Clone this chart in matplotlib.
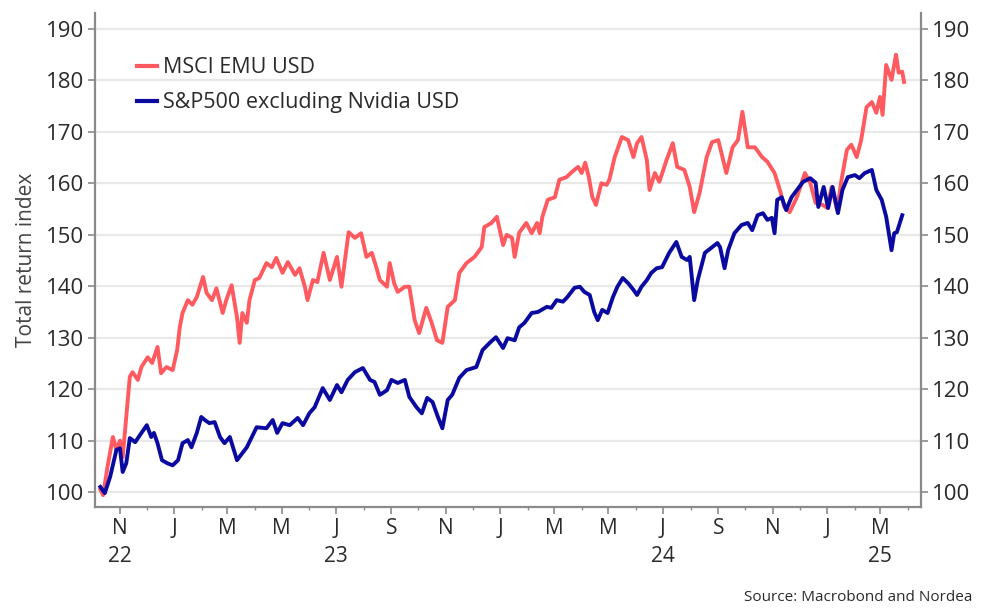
import pandas as pd
import matplotlib
matplotlib.use("Agg")
import matplotlib.pyplot as plt
import matplotlib.dates as mdates
import matplotlib.transforms as mtrans

plt.rcParams['font.family'] = ['Open Sans', 'DejaVu Sans']

# MSCI EMU USD (total return index)
emu_dates = ["2022-10-10", "2022-10-13", "2022-10-18", "2022-10-24", "2022-10-28", "2022-11-01",
             "2022-11-04", "2022-11-08", "2022-11-12", "2022-11-15", "2022-11-21", "2022-11-25",
             "2022-12-02", "2022-12-07", "2022-12-13", "2022-12-17", "2022-12-23", "2022-12-30",
             "2023-01-04", "2023-01-07", "2023-01-10", "2023-01-16", "2023-01-21", "2023-01-26",
             "2023-02-02", "2023-02-06", "2023-02-12", "2023-02-17", "2023-02-24", "2023-02-28",
             "2023-03-06", "2023-03-12", "2023-03-15", "2023-03-18", "2023-03-23", "2023-03-26",
             "2023-04-01", "2023-04-06", "2023-04-14", "2023-04-20", "2023-04-25", "2023-05-02",
             "2023-05-08", "2023-05-16", "2023-05-21", "2023-05-27", "2023-05-30", "2023-06-05",
             "2023-06-10", "2023-06-17", "2023-06-24", "2023-07-02", "2023-07-07", "2023-07-15",
             "2023-07-22", "2023-07-29", "2023-08-04", "2023-08-10", "2023-08-15", "2023-08-19",
             "2023-08-27", "2023-08-30", "2023-09-04", "2023-09-08", "2023-09-16", "2023-09-21",
             "2023-09-27", "2023-10-02", "2023-10-10", "2023-10-16", "2023-10-22", "2023-10-28",
             "2023-11-03", "2023-11-11", "2023-11-16", "2023-11-24", "2023-12-03", "2023-12-11",
             "2023-12-14", "2023-12-22", "2023-12-28", "2024-01-04", "2024-01-08", "2024-01-14",
             "2024-01-17", "2024-01-22", "2024-01-30", "2024-02-05", "2024-02-11", "2024-02-14",
             "2024-02-17", "2024-02-23", "2024-03-02", "2024-03-07", "2024-03-15", "2024-03-21",
             "2024-03-28", "2024-04-01", "2024-04-05", "2024-04-09", "2024-04-13", "2024-04-17",
             "2024-04-23", "2024-04-29", "2024-05-02", "2024-05-08", "2024-05-16", "2024-05-23",
             "2024-05-29", "2024-06-02", "2024-06-07", "2024-06-13", "2024-06-16", "2024-06-22",
             "2024-06-27", "2024-07-05", "2024-07-12", "2024-07-17", "2024-07-25", "2024-07-31",
             "2024-08-05", "2024-08-11", "2024-08-19", "2024-08-25", "2024-09-01", "2024-09-10",
             "2024-09-17", "2024-09-23", "2024-09-28", "2024-10-04", "2024-10-12", "2024-10-20",
             "2024-10-26", "2024-11-03", "2024-11-09", "2024-11-14", "2024-11-20", "2024-11-28",
             "2024-12-07", "2024-12-13", "2024-12-19", "2024-12-27", "2025-01-01", "2025-01-06",
             "2025-01-12", "2025-01-17", "2025-01-23", "2025-01-28", "2025-02-03", "2025-02-08",
             "2025-02-14", "2025-02-20", "2025-02-25", "2025-03-01", "2025-03-04", "2025-03-08",
             "2025-03-14", "2025-03-19", "2025-03-22", "2025-03-26", "2025-03-28"]
emu_vals = [100.5, 99.4, 104.9, 110.7, 108.2, 110.0,
            106.8, 114.6, 122.4, 123.3, 121.8, 124.3,
            126.2, 125.1, 128.2, 123.1, 124.3, 123.7,
            127.6, 132.1, 134.8, 137.3, 136.4, 137.9,
            141.8, 138.7, 137.3, 139.6, 134.8, 137.3,
            140.2, 134.0, 129.0, 134.8, 132.9, 137.3,
            141.2, 141.6, 144.5, 143.7, 145.5, 142.6,
            144.7, 142.2, 143.5, 139.9, 137.3, 141.2,
            140.8, 146.5, 141.2, 145.7, 139.9, 150.5,
            149.4, 150.3, 145.7, 146.5, 143.7, 141.2,
            139.9, 144.5, 140.6, 138.9, 139.9, 139.9,
            133.4, 130.9, 135.8, 132.9, 129.5, 129.0,
            136.0, 137.3, 142.6, 144.5, 145.7, 147.6,
            151.5, 152.3, 153.5, 148.0, 150.0, 149.4,
            145.7, 150.4, 152.3, 150.3, 152.3, 150.3,
            153.5, 156.8, 157.3, 160.7, 161.2, 162.2,
            163.2, 162.0, 164.0, 161.2, 157.3, 155.8,
            160.0, 159.7, 160.7, 165.1, 169.0, 168.4,
            165.1, 167.8, 169.0, 164.5, 158.7, 162.0,
            160.3, 164.5, 167.8, 163.2, 162.6, 159.3,
            154.4, 158.1, 165.1, 168.0, 168.4, 162.0,
            167.0, 168.4, 173.9, 167.0, 167.0, 165.1,
            164.2, 162.0, 158.7, 155.4, 154.4, 157.3,
            162.0, 160.1, 156.2, 155.8, 155.2, 159.3,
            154.8, 160.7, 166.5, 167.5, 165.1, 168.4,
            174.8, 175.8, 173.7, 176.8, 173.3, 183.0,
            180.1, 185.0, 181.5, 181.7, 179.7]

# S&P500 excluding Nvidia USD
spx_dates = ["2022-10-10", "2022-10-15", "2022-10-21", "2022-10-28", "2022-11-01", "2022-11-04",
             "2022-11-08", "2022-11-12", "2022-11-18", "2022-11-25", "2022-12-01", "2022-12-06",
             "2022-12-09", "2022-12-13", "2022-12-18", "2022-12-24", "2022-12-30", "2023-01-05",
             "2023-01-10", "2023-01-16", "2023-01-20", "2023-01-26", "2023-01-31", "2023-02-04",
             "2023-02-09", "2023-02-15", "2023-02-21", "2023-02-26", "2023-03-04", "2023-03-12",
             "2023-03-23", "2023-04-03", "2023-04-14", "2023-04-21", "2023-04-26", "2023-05-02",
             "2023-05-10", "2023-05-19", "2023-05-25", "2023-06-01", "2023-06-07", "2023-06-16",
             "2023-06-24", "2023-07-02", "2023-07-07", "2023-07-14", "2023-07-22", "2023-07-31",
             "2023-08-08", "2023-08-13", "2023-08-19", "2023-08-27", "2023-09-01", "2023-09-08",
             "2023-09-16", "2023-09-21", "2023-09-29", "2023-10-05", "2023-10-11", "2023-10-17",
             "2023-10-23", "2023-10-28", "2023-11-03", "2023-11-08", "2023-11-16", "2023-11-24",
             "2023-12-05", "2023-12-12", "2023-12-20", "2023-12-27", "2024-01-04", "2024-01-09",
             "2024-01-17", "2024-01-22", "2024-01-28", "2024-02-05", "2024-02-12", "2024-02-22",
             "2024-02-27", "2024-03-04", "2024-03-11", "2024-03-16", "2024-03-24", "2024-03-30",
             "2024-04-04", "2024-04-10", "2024-04-15", "2024-04-19", "2024-04-24", "2024-04-30",
             "2024-05-06", "2024-05-11", "2024-05-17", "2024-05-23", "2024-05-29", "2024-06-02",
             "2024-06-07", "2024-06-13", "2024-06-18", "2024-06-24", "2024-06-30", "2024-07-08",
             "2024-07-16", "2024-07-22", "2024-07-28", "2024-07-31", "2024-08-05", "2024-08-09",
             "2024-08-17", "2024-08-25", "2024-08-31", "2024-09-03", "2024-09-08", "2024-09-12",
             "2024-09-19", "2024-09-27", "2024-10-04", "2024-10-09", "2024-10-15", "2024-10-21",
             "2024-10-26", "2024-10-31", "2024-11-03", "2024-11-06", "2024-11-11", "2024-11-16",
             "2024-11-22", "2024-11-28", "2024-12-05", "2024-12-13", "2024-12-19", "2024-12-22",
             "2024-12-28", "2025-01-02", "2025-01-07", "2025-01-13", "2025-01-18", "2025-01-24",
             "2025-02-01", "2025-02-06", "2025-02-12", "2025-02-20", "2025-02-25", "2025-03-03",
             "2025-03-08", "2025-03-14", "2025-03-17", "2025-03-20", "2025-03-26"]
spx_vals = [101.0, 99.8, 103.0, 108.2, 108.5, 103.9,
            105.6, 110.5, 109.7, 111.5, 113.0, 110.7,
            111.5, 109.5, 106.2, 105.6, 105.2, 106.2,
            109.5, 110.1, 108.7, 111.5, 114.6, 114.0,
            113.4, 113.6, 110.7, 109.5, 110.7, 106.2,
            108.7, 112.6, 112.4, 114.0, 111.5, 113.4,
            113.0, 114.4, 113.0, 115.3, 116.5, 120.2,
            117.9, 120.8, 119.4, 121.8, 123.3, 124.1,
            121.8, 121.4, 118.9, 119.8, 121.8, 121.2,
            121.8, 118.5, 116.5, 115.3, 118.3, 117.5,
            114.6, 112.4, 117.9, 118.9, 122.2, 123.7,
            124.3, 127.6, 129.0, 130.1, 128.0, 129.9,
            129.5, 132.0, 132.9, 134.8, 135.0, 136.0,
            135.8, 137.3, 137.0, 137.9, 139.7, 139.9,
            138.9, 138.3, 135.0, 133.4, 135.4, 134.8,
            137.9, 139.9, 141.6, 140.6, 139.3, 138.3,
            139.9, 141.2, 142.6, 143.5, 143.7, 146.5,
            148.6, 145.7, 145.1, 145.7, 137.3, 141.2,
            146.5, 147.6, 148.4, 147.6, 143.5, 147.0,
            150.3, 151.9, 152.3, 150.9, 153.8, 154.2,
            152.9, 153.3, 150.3, 156.8, 157.3, 154.8,
            157.3, 158.7, 160.3, 161.0, 160.1, 155.4,
            159.3, 155.2, 159.3, 154.2, 158.7, 161.2,
            161.6, 161.0, 162.0, 162.6, 158.7, 156.8,
            153.5, 147.0, 150.3, 150.5, 153.8]

yticks = [100, 110, 120, 130, 140, 150, 160, 170, 180, 190]
year_labels = ["22", "23", "24", "25"]
year_pos = ["2022-11-01", "2023-07-01", "2024-07-01", "2025-03-01"]

red = '#ff5a5f'
blue = '#0a0aa0'
txt = '#2a2a2a'
spine = '#8a8a8a'

fig = plt.figure(figsize=(9.81, 6.12), dpi=100)
ax = fig.add_axes([95/981, 1 - 507/612, 826/981, 494/612])

ax.plot(pd.to_datetime(emu_dates), emu_vals, color=red, lw=2.8, label='MSCI EMU USD')
ax.plot(pd.to_datetime(spx_dates), spx_vals, color=blue, lw=2.8, label='S&P500 excluding Nvidia USD')

ax.set_ylim(97.1, 193.1)
ax.set_xlim(pd.Timestamp('2022-10-04'), pd.Timestamp('2025-04-16'))
ax.set_yticks(yticks)
ax.grid(axis='y', color='#e8e8e8', lw=1.6)
ax.set_axisbelow(True)

ax.xaxis.set_major_locator(mdates.MonthLocator(bymonth=[1, 3, 5, 7, 9, 11]))
ax.xaxis.set_minor_locator(mdates.MonthLocator())
fig.canvas.draw()
ax.set_xticks(ax.get_xticks())
ax.set_xticklabels([mdates.num2date(t).strftime('%b')[0] for t in ax.get_xticks()])

ax.tick_params(axis='x', which='major', length=5, width=1.2, color=spine, labelsize=15,
               labelcolor=txt, pad=3)
ax.tick_params(axis='x', which='minor', length=2.5, width=1, color=spine)
ax.tick_params(axis='y', which='major', length=5, width=1.2, color=spine, labelsize=16,
               labelcolor=txt, left=True, right=True, labelleft=True, labelright=True, pad=3)

for s in ['left', 'right', 'bottom']:
    ax.spines[s].set_color(spine)
    ax.spines[s].set_linewidth(1.6)
ax.spines['top'].set_visible(False)

trans = mtrans.blended_transform_factory(ax.transData, ax.transAxes)
for lab, pos in zip(year_labels, year_pos):
    ax.text(pd.Timestamp(pos), -0.101, lab, transform=trans, ha='center', va='center',
            fontsize=15, color=txt)

ax.set_ylabel('Total return index', fontsize=15, color='#444444', labelpad=6)

leg = ax.legend(loc='upper left', bbox_to_anchor=(0.051, 0.91), frameon=False, fontsize=15.5,
                handlelength=0.9, handletextpad=0.3, borderpad=0, borderaxespad=0,
                labelspacing=0.65, labelcolor=txt)
for h in leg.get_lines():
    h.set_linewidth(3)

fig.text(0.991, 0.012, 'Source: Macrobond and Nordea', ha='right', va='bottom',
         fontsize=11, color=txt)

fig.savefig('out.png', dpi=100)
